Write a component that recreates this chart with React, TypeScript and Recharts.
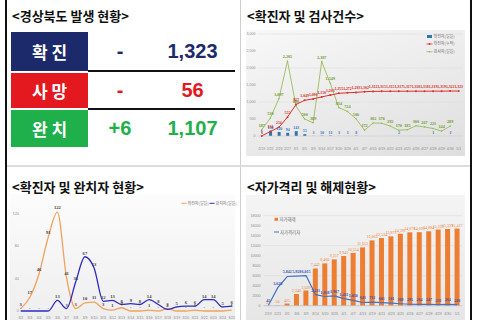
import React from 'react'
import {
  ComposedChart,
  LineChart,
  Bar,
  Line,
  XAxis,
  YAxis,
  CartesianGrid,
  LabelList,
} from 'recharts'

// <확진자 및 검사건수>
const testDates = ['2/19', '2/21', '2/23', '2/27', '3/1', '3/5', '3/9', '3/14', '3/17', '3/20', '3/26', '4/1', '4/7', '4/13', '4/19', '4/21', '4/23', '4/25', '4/26', '4/27', '4/28', '4/29', '4/30', '5/1']
const dailyConfirmed = [1, 150, 120, 94, 143, 55, 3, 10, 11, 3, 1, 8, 0, 0, 0, 0, 2, 0, 0, 0, 1, 0, 1, 0]
const cumulativeConfirmed = [1, 134, 254, 555, 927, 1049, 1090, 1150, 1203, 1255, 1272, 1283, 1302, 1312, 1315, 1315, 1317, 1317, 1318, 1318, 1319, 1319, 1322, 1323]
const dailyTests = [187, 530, 1097, 2205, 880, 500, 389, 2187, 1549, 834, 724, 506, 172, 382, 376, 292, 170, 185, 300, 267, 221, 144, 289, null]
const testTicks = [0, 500, 1000, 1500, 2000, 2500, 3000]

// <확진자 및 완치자 현황>
const recoverDates = ['3/2', '3/3', '3/4', '3/5', '3/6', '3/7', '3/8', '3/9', '3/10', '3/11', '3/12', '3/13', '3/14', '3/15', '3/16', '3/17', '3/18', '3/19', '3/20', '3/21', '3/22', '3/23', '3/24', '3/25']
const newCases = [3, 17, 46, 91, 122, 41, 3, 10, 11, 3, 1, 4, 0, 0, 1, 0, 3, 0, 0, 1, 0, 0, 0, 1]
const recovered = [0, 0, 0, 0, 13, 3, 36, 67, 53, 12, 13, 8, 9, 8, 14, 8, 2, 5, 6, 6, 14, 14, 5, 6]
const recoverTicks = [0, 40, 80, 120]

// <자가격리 및 해제현황>
const quarantineDates = ['2/19', '2/21', '3/1', '3/6', '3/9', '3/14', '3/20', '3/26', '4/1', '4/7', '4/13', '4/19', '4/21', '4/23', '4/25', '4/26', '4/27', '4/28', '4/29', '4/30', '5/1']
const released = [25, 50, 425, 2340, 3039, 7442, 8460, 9257, 9941, 10554, 11653, 13063, 13534, 13871, 14391, 14678, 14699, 14884, 15229, 15339, 15417]
const quarantined = [45, 3620, 5842, 5928, 6015, 2211, 1838, 1967, 1411, 1050, 643, 712, 601, 501, 388, 295, 264, 247, 231, 264, 206]
const quarantineTicks = [0, 2000, 4000, 6000, 8000, 10000, 12000, 14000, 16000, 18000]

const testData = testDates.map((date, i) => ({
  date,
  daily: dailyConfirmed[i],
  cum: cumulativeConfirmed[i],
  tests: dailyTests[i],
}))
const recoverData = recoverDates.map((date, i) => ({ date, newCases: newCases[i], recovered: recovered[i] }))
const quarantineData = quarantineDates.map((date, i) => ({ date, released: released[i], quarantined: quarantined[i] }))

const KR = "'Noto Sans CJK KR', 'Noto Sans', sans-serif"
const NUM = "'Liberation Sans', Arial, sans-serif"

const comma = (v: any) => (v == null ? '' : Number(v).toLocaleString('en-US'))
const dash = (v: any) => (v == null ? '' : v === 0 ? '-' : Number(v).toLocaleString('en-US'))

const tiny = { fontSize: 3.6, fill: '#8c8c8c', fontFamily: NUM }

function Title({ x, y, text }: { x: number; y: number; text: string }) {
  return (
    <div style={{ position: 'absolute', left: x, top: y, fontSize: 13, lineHeight: '13px', fontWeight: 700, color: '#111', fontFamily: KR, whiteSpace: 'nowrap' }}>
      {text}
    </div>
  )
}

function Row({ top, height, color, label, change, total }: any) {
  const cell = { position: 'absolute' as const, top, height, display: 'flex', alignItems: 'center', justifyContent: 'center' }
  return (
    <>
      <div style={{ ...cell, left: 11, width: 77, background: color, color: '#fff', fontFamily: KR, fontWeight: 700, fontSize: 17 }}>{label}</div>
      <div style={{ ...cell, left: 90, width: 60, color, fontFamily: NUM, fontWeight: 700, fontSize: 20 }}>{change}</div>
      <div style={{ ...cell, left: 160, width: 65, color, fontFamily: NUM, fontWeight: 700, fontSize: 20 }}>{total}</div>
    </>
  )
}

export default function App() {
  return (
    <div style={{ position: 'relative', width: 480, height: 320, background: '#fff', overflow: 'hidden' }}>
      <style>{'body{margin:0}'}</style>

      {/* frame */}
      <div style={{ position: 'absolute', left: 5, top: 0, width: 2, height: 320, background: '#111' }} />
      <div style={{ position: 'absolute', left: 470, top: 0, width: 2, height: 320, background: '#111' }} />
      <div style={{ position: 'absolute', left: 240, top: 0, width: 1, height: 320, background: '#cfcfcf' }} />
      <div style={{ position: 'absolute', left: 7, top: 165, width: 463, height: 2, background: '#dcdcdc' }} />

      <Title x={12} y={8.5} text="<경상북도 발생 현황>" />
      <Title x={247} y={8.5} text="<확진자 및 검사건수>" />
      <Title x={12} y={180} text="<확진자 및 완치자 현황>" />
      <Title x={247} y={180} text="<자가격리 및 해제현황>" />

      {/* summary table */}
      <Row top={31.5} height={39} color="#1c2a6b" label="확 진" change="-" total="1,323" />
      <Row top={72.5} height={35.5} color="#e3191f" label="사 망" change="-" total="56" />
      <Row top={110} height={36.5} color="#1fb04c" label="완 치" change="+6" total="1,107" />
      <div style={{ position: 'absolute', left: 88, top: 70, width: 147, height: 1.8, background: '#111' }} />
      <div style={{ position: 'absolute', left: 88, top: 107.8, width: 147, height: 1.8, background: '#111' }} />

      {/* chart backgrounds */}
      <div style={{ position: 'absolute', left: 246, top: 30, width: 219, height: 126, background: 'linear-gradient(160deg, #f8f8f8 0%, #e9e9e9 60%, #dedede 100%)' }} />
      <div style={{ position: 'absolute', left: 10, top: 194, width: 225, height: 126, background: 'linear-gradient(180deg, #fcfcfc 0%, #eeeeee 100%)' }} />
      <div style={{ position: 'absolute', left: 246, top: 195, width: 219, height: 125, background: 'linear-gradient(180deg, #f4f4f4 0%, #e6e6e6 100%)' }} />

      {/* 확진자 및 검사건수 */}
      <div style={{ position: 'absolute', left: 246, top: 30 }}>
        <ComposedChart width={219} height={126} data={testData} margin={{ top: 4, right: 2, bottom: 0, left: 0 }}>
          <CartesianGrid vertical={false} stroke="#dadada" strokeWidth={0.5} />
          <XAxis dataKey="date" scale="band" interval={0} height={20} tickSize={0} tickMargin={11} axisLine={{ stroke: '#cccccc', strokeWidth: 0.5 }} tick={tiny} />
          <YAxis domain={[0, 3000]} ticks={testTicks} width={11.5} tickSize={0} tickMargin={2} axisLine={false} tick={tiny} tickFormatter={comma} />
          <Bar dataKey="daily" fill="#2e75b6" barSize={3} isAnimationActive={false}>
            <LabelList dataKey="daily" position="top" offset={2} fontSize={4} fontWeight={700} fill="#2e75b6" formatter={dash} />
          </Bar>
          <Line type="linear" dataKey="tests" stroke="#9bbb59" strokeWidth={0.9} dot={{ r: 0.8, fill: '#9bbb59', stroke: 'none' }} isAnimationActive={false}>
            <LabelList dataKey="tests" position="top" offset={3} fontSize={4.2} fontWeight={700} fill="#6f9a2e" formatter={comma} />
          </Line>
          <Line type="linear" dataKey="cum" stroke="#e0302a" strokeWidth={1} dot={{ r: 1, fill: '#e0302a', stroke: 'none' }} isAnimationActive={false}>
            <LabelList dataKey="cum" position="top" offset={3} fontSize={3.8} fontWeight={700} fill="#d42a24" formatter={comma} />
          </Line>
        </ComposedChart>
      </div>

      {/* 확진자 및 완치자 현황 */}
      <div style={{ position: 'absolute', left: 12, top: 195 }}>
        <LineChart width={224} height={125} data={recoverData} margin={{ top: 10.7, right: 4.3, bottom: 0, left: 0 }}>
          <XAxis dataKey="date" interval={0} height={9} tickSize={0} tickMargin={5} axisLine={false} tick={tiny} />
          <YAxis domain={[0, 130]} ticks={recoverTicks} width={8.7} tickSize={0} tickMargin={2} axisLine={false} tick={tiny} />
          <Line type="monotone" dataKey="newCases" stroke="#f2a25c" strokeWidth={1.3} dot={false} isAnimationActive={false}>
            <LabelList dataKey="newCases" position="top" offset={3} fontSize={4.6} fontWeight={700} fill="#3a3a3a" formatter={dash} />
          </Line>
          <Line type="monotone" dataKey="recovered" stroke="#2c2cc4" strokeWidth={1.3} dot={false} isAnimationActive={false}>
            <LabelList dataKey="recovered" position="top" offset={2} fontSize={4.6} fontWeight={700} fill="#3a3a3a" formatter={dash} />
          </Line>
        </LineChart>
      </div>

      {/* 자가격리 및 해제현황 */}
      <div style={{ position: 'absolute', left: 246, top: 195 }}>
        <ComposedChart width={220} height={125} data={quarantineData} margin={{ top: 20.7, right: 4, bottom: 0, left: 0 }}>
          <CartesianGrid vertical={false} stroke="#d8d8d8" strokeWidth={0.5} />
          <XAxis dataKey="date" scale="band" interval={0} height={14.3} tickSize={0} tickMargin={7} axisLine={{ stroke: '#bdbdbd', strokeWidth: 0.6 }} tick={tiny} />
          <YAxis domain={[0, 18000]} ticks={quarantineTicks} width={17.6} tickSize={0} tickMargin={3} axisLine={false} tick={tiny} />
          <Bar dataKey="released" fill="#ed7d31" barSize={5} isAnimationActive={false}>
            <LabelList dataKey="released" position="top" offset={2} fontSize={4} fill="#ed7d31" formatter={comma} />
          </Bar>
          <Line type="linear" dataKey="quarantined" stroke="#4472c4" strokeWidth={1.2} dot={false} isAnimationActive={false}>
            <LabelList dataKey="quarantined" position="top" offset={3} fontSize={4} fontWeight={700} fill="#2f4fb5" formatter={comma} />
          </Line>
        </ComposedChart>
      </div>

      {/* legends */}
      <svg style={{ position: 'absolute', left: 0, top: 0 }} width={480} height={320}>
        <g fontFamily={KR} fontSize={4} fill="#6b6b6b">
          <rect x={427} y={35} width={5} height={3} fill="#2e75b6" />
          <text x={433.5} y={38}>확진자(일일)</text>
          <line x1={426.5} x2={432.5} y1={44} y2={44} stroke="#e0302a" strokeWidth={0.8} />
          <circle cx={429.5} cy={44} r={0.9} fill="#e0302a" />
          <text x={433.5} y={45.4}>확진자(누적)</text>
          <line x1={426.5} x2={432.5} y1={51.7} y2={51.7} stroke="#9bbb59" strokeWidth={0.8} />
          <circle cx={429.5} cy={51.7} r={0.8} fill="#9bbb59" />
          <text x={433.5} y={53.1}>검사자(일일)</text>

          <line x1={181.5} x2={186.5} y1={203.3} y2={203.3} stroke="#f2a25c" strokeWidth={1} />
          <text x={187.5} y={204.7}>확진자(일일)</text>
          <line x1={209.5} x2={214.5} y1={203.3} y2={203.3} stroke="#2c2cc4" strokeWidth={1} />
          <text x={215.5} y={204.7}>완치자(일일)</text>

          <rect x={274.5} y={217.8} width={3.5} height={3} fill="#ed7d31" />
          <text x={279.5} y={220.8} fontSize={4.4}>자가해제</text>
          <line x1={274} x2={279} y1={232} y2={232} stroke="#4472c4" strokeWidth={1} />
          <text x={280} y={233.5} fontSize={4.4}>자가격리자</text>
        </g>
      </svg>
    </div>
  )
}
